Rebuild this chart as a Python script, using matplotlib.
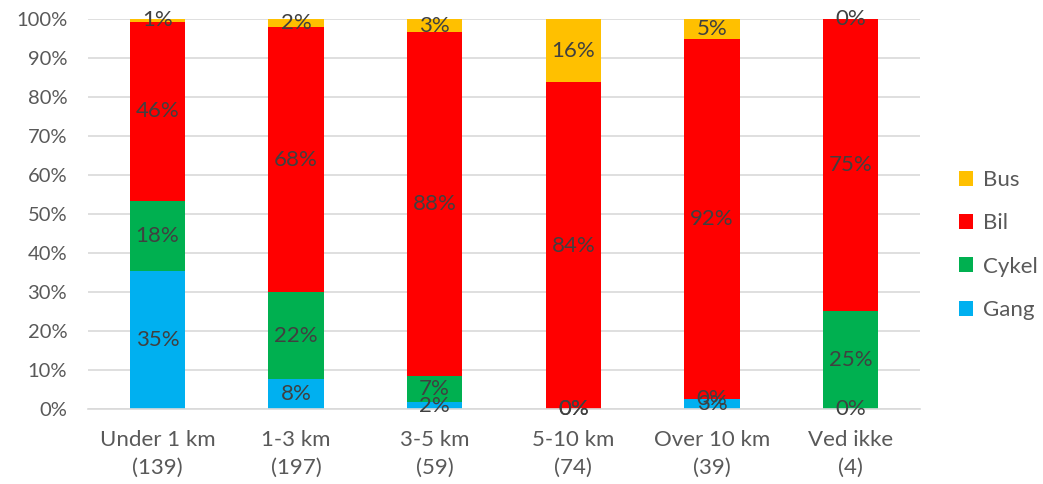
import matplotlib
matplotlib.use('Agg')
import matplotlib.pyplot as plt
import numpy as np

plt.rcParams['font.family'] = ['Lato', 'DejaVu Sans']

categories = ['Under 1 km\n(139)', '1-3 km\n(197)', '3-5 km\n(59)', '5-10 km\n(74)', 'Over 10 km\n(39)', 'Ved ikke\n(4)']
gang = [35.3, 7.6, 1.7, 0.0, 2.6, 0.0]
cykel = [18.0, 22.3, 6.8, 0.0, 0.0, 25.0]
bil = [46.0, 68.0, 88.1, 83.8, 92.3, 75.0]
bus = [0.7, 2.0, 3.4, 16.2, 5.1, 0.0]

series = [('Gang', gang, '#00B0F0'), ('Cykel', cykel, '#00B050'),
          ('Bil', bil, '#FF0000'), ('Bus', bus, '#FFC000')]

fig = plt.figure(figsize=(10.43, 4.84), dpi=100)
ax = fig.add_axes([0.0844, 0.155, 0.7976, 0.8057])

x = np.arange(len(categories))
bottom = np.zeros(len(categories))
handles = []
for name, vals, col in series:
    vals = np.array(vals)
    h = ax.bar(x, vals, 0.4, bottom=bottom, color=col, label=name, zorder=2)
    handles.append(h)
    for i in range(len(x)):
        ax.text(x[i], bottom[i] + vals[i] / 2, '%d%%' % round(vals[i]),
                ha='center', va='center', fontsize=16, color='#404040', zorder=3)
    bottom = bottom + vals

ax.set_xlim(-0.5, len(categories) - 0.5)
ax.set_ylim(0, 100)
ax.set_yticks(np.arange(0, 101, 10))
ax.set_yticklabels(['%d%%' % v for v in range(0, 101, 10)])
ax.set_xticks(x)
ax.set_xticklabels(categories, linespacing=1.5)
ax.yaxis.grid(True, color='#D9D9D9', linewidth=1.2, zorder=0)
ax.set_axisbelow(True)
for s in ax.spines.values():
    s.set_visible(False)
ax.spines['bottom'].set_visible(True)
ax.spines['bottom'].set_color('#D9D9D9')
ax.spines['bottom'].set_linewidth(1.2)
ax.tick_params(axis='both', length=0, colors='#595959')
ax.tick_params(axis='x', pad=15, labelsize=16)
ax.tick_params(axis='y', pad=15, labelsize=14.5)

leg = fig.legend(handles[::-1], [s[0] for s in series][::-1], loc='center left',
                 bbox_to_anchor=(0.9, 0.494), frameon=False, fontsize=16,
                 handlelength=0.65, handleheight=0.65, handletextpad=0.45,
                 labelspacing=1.05, labelcolor='#595959')

fig.savefig('out.png', dpi=100)
